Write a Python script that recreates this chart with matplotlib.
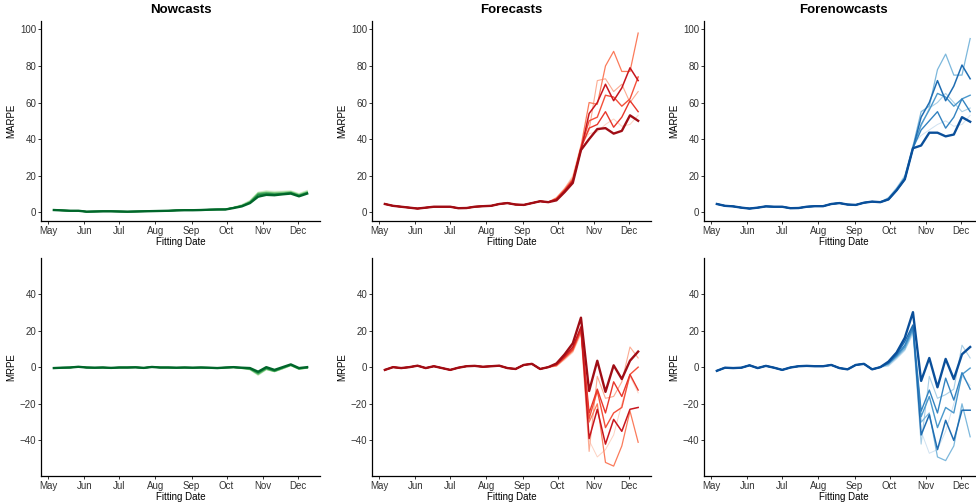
import pandas as pd
import matplotlib
matplotlib.use("Agg")
import matplotlib.pyplot as plt
import matplotlib.dates as mdates

plt.rcParams["font.family"] = ["Liberation Sans", "DejaVu Sans"]

# weekly fitting dates
dates = pd.date_range("2020-05-06", periods=32, freq="7D")

# values May 6 - Sep 23 (shared by all horizons), then Sep 30 - Dec 9 per horizon
now_marpe_early = [1.2, 1.0, 0.8, 0.8, 0.3, 0.4, 0.5, 0.5, 0.4, 0.3, 0.4, 0.5, 0.6, 0.7, 0.8, 1.0, 1.1, 1.1, 1.2, 1.4, 1.5]
now_marpe_late = [
    [1.5, 2.3, 3.2, 5.0, 8.5, 9.5, 9.3, 9.8, 10.2, 8.7, 10.2],
    [1.5, 2.4, 3.4, 5.3, 9.5, 10.0, 9.8, 10.0, 10.5, 9.0, 10.5],
    [1.6, 2.5, 3.5, 5.5, 10.0, 10.5, 10.0, 10.3, 10.8, 9.3, 10.8],
    [1.6, 2.5, 3.6, 5.8, 10.3, 10.8, 10.5, 10.6, 11.0, 9.5, 11.0],
    [1.7, 2.6, 3.8, 6.0, 10.5, 11.0, 10.8, 11.0, 11.3, 9.8, 11.3],
    [1.7, 2.7, 4.0, 6.2, 10.8, 11.5, 11.0, 11.3, 11.5, 10.0, 11.7],
    [1.8, 2.8, 4.2, 6.5, 11.0, 11.8, 11.5, 11.6, 11.8, 10.3, 12.0],
]
now_mrpe_early = [-0.5, -0.3, -0.2, 0.2, -0.2, -0.3, -0.2, -0.4, -0.2, -0.2, -0.1, -0.4, 0.1, -0.2, -0.2, -0.3, -0.2, -0.3, -0.2, -0.3, -0.5]
now_mrpe_late = [
    [-0.2, 0.0, -0.3, -0.5, -2.5, 0.0, -1.5, 0.0, 1.5, -0.5, 0.0],
    [-0.2, 0.0, -0.4, -0.8, -3.0, -0.5, -2.0, -0.3, 1.3, -0.7, -0.2],
    [-0.3, -0.1, -0.5, -1.0, -3.5, -0.8, -2.2, -0.5, 1.1, -0.9, -0.3],
    [-0.3, -0.1, -0.6, -1.1, -3.8, -1.0, -2.3, -0.7, 1.0, -1.0, -0.4],
    [-0.3, -0.2, -0.7, -1.2, -4.0, -1.2, -2.4, -0.8, 0.9, -1.1, -0.5],
    [-0.4, -0.2, -0.7, -1.4, -4.3, -1.3, -2.5, -0.9, 0.8, -1.2, -0.5],
    [-0.4, -0.2, -0.8, -1.5, -4.5, -1.5, -2.5, -1.0, 0.8, -1.2, -0.6],
]

fc_marpe_early = [4.5, 3.5, 3.0, 2.5, 2.0, 2.5, 3.0, 3.0, 3.0, 2.2, 2.3, 3.0, 3.3, 3.5, 4.5, 5.0, 4.2, 4.0, 5.0, 6.0, 5.5]
fc_marpe_late = [
    [6.5, 11.0, 16.0, 34.0, 40.0, 45.5, 46.0, 43.0, 44.5, 53.0, 50.0],
    [7.0, 11.5, 17.0, 34.0, 54.0, 60.0, 70.0, 61.0, 68.0, 79.0, 72.0],
    [7.0, 12.0, 17.0, 35.0, 46.0, 48.0, 55.0, 46.5, 52.0, 61.0, 55.0],
    [7.5, 12.0, 18.0, 35.0, 50.0, 52.0, 64.0, 63.0, 58.0, 62.0, 74.0],
    [7.5, 12.5, 18.0, 36.0, 60.0, 59.0, 80.0, 88.0, 77.0, 77.0, 98.0],
    [8.0, 13.0, 19.0, 36.0, 45.0, 72.0, 73.0, 66.0, 70.0, 60.0, 66.0],
    [8.0, 13.0, 20.0, 37.0, 43.0, 44.0, 48.0, 51.0, 47.0, 48.0, 53.0],
]
fc_mrpe_early = [-1.5, 0.0, -0.5, 0.0, 0.8, -0.5, 0.5, -0.5, -1.5, -0.3, 0.5, 0.7, 0.2, 0.5, 0.8, -0.5, -1.0, 1.2, 1.8, -1.0, 0.0]
fc_mrpe_late = [
    [2.0, 7.0, 13.0, 27.0, -13.0, 3.5, -13.5, 1.0, -6.5, 3.5, 8.5],
    [1.5, 6.0, 11.0, 22.0, -39.0, -23.0, -42.0, -28.5, -35.0, -23.0, -22.0],
    [1.5, 5.5, 10.0, 21.0, -25.0, -12.0, -25.0, -8.0, -16.0, -4.0, -12.5],
    [1.0, 5.0, 9.5, 20.0, -28.0, -13.0, -33.0, -25.0, -22.0, -4.0, 0.0],
    [1.0, 5.0, 9.0, 20.0, -30.0, -20.0, -52.0, -54.0, -43.0, -24.0, -41.0],
    [0.5, 4.5, 8.5, 19.0, -46.0, -5.0, -17.0, -16.0, -8.0, 11.0, 5.0],
    [0.5, 4.0, 8.0, 18.0, -40.0, -49.0, -45.0, -37.0, -20.0, -5.0, -14.0],
]

fn_marpe_early = [4.5, 3.5, 3.2, 2.5, 2.0, 2.5, 3.2, 3.0, 3.0, 2.2, 2.3, 3.0, 3.3, 3.3, 4.5, 5.0, 4.2, 4.0, 5.2, 5.8, 5.5]
fn_marpe_late = [
    [7.0, 12.0, 18.0, 35.0, 36.5, 43.5, 43.5, 41.5, 42.5, 52.0, 49.5],
    [7.0, 12.0, 18.0, 35.0, 52.0, 60.0, 72.0, 61.0, 69.0, 80.5, 73.0],
    [7.0, 12.0, 18.0, 35.0, 45.0, 50.0, 55.0, 46.0, 52.0, 62.0, 55.0],
    [7.5, 12.5, 19.0, 35.0, 48.0, 56.0, 65.0, 63.0, 58.0, 62.0, 64.0],
    [7.5, 13.0, 19.0, 36.0, 55.0, 58.0, 78.0, 86.5, 75.0, 75.0, 95.0],
    [8.0, 13.0, 20.0, 36.0, 47.0, 57.0, 60.0, 65.0, 60.0, 55.0, 57.0],
    [8.0, 13.5, 20.0, 37.0, 42.0, 45.0, 48.0, 50.0, 47.0, 48.0, 53.0],
]
fn_mrpe_early = [-2.0, -0.3, -0.5, -0.3, 1.0, -0.5, 0.7, -0.3, -1.5, -0.2, 0.5, 0.7, 0.5, 0.5, 1.2, -0.5, -1.2, 1.2, 1.8, -1.2, 0.0]
fn_mrpe_late = [
    [3.0, 8.0, 16.0, 30.0, -7.5, 5.0, -11.0, 4.5, -6.5, 7.0, 11.0],
    [2.5, 7.0, 14.0, 23.0, -37.0, -26.0, -45.0, -29.0, -40.0, -23.5, -23.5],
    [2.0, 6.5, 12.0, 22.0, -24.0, -12.5, -25.0, -6.0, -18.0, -3.0, -12.0],
    [2.0, 6.0, 11.0, 21.0, -27.0, -16.0, -33.0, -22.0, -25.0, -4.0, -0.5],
    [1.5, 5.5, 10.0, 20.0, -30.0, -25.0, -49.0, -51.0, -43.0, -20.0, -38.0],
    [1.0, 5.0, 9.5, 19.0, -42.0, -5.0, -17.0, -15.0, -12.0, 12.0, 5.0],
    [0.5, 4.5, 9.0, 18.0, -35.0, -47.0, -45.0, -35.0, -20.0, -5.0, -10.0],
]

greens = ["#00662a", "#238b45", "#41ab5d", "#74c476", "#a1d99b", "#c7e9c0", "#e2f3dc"]
reds = ["#a00d15", "#c8161d", "#e8372b", "#f4503a", "#fb7b5b", "#fcab92", "#fdd2c2"]
blues = ["#0a4f9a", "#1f6db2", "#3383c0", "#4a98cc", "#7db8dc", "#a9cfe6", "#d0e2f1"]
widths = [1.7, 1.1, 1.0, 1.0, 0.9, 0.8, 0.7]

panels = [
    ("Nowcasts", greens, now_marpe_early, now_marpe_late, now_mrpe_early, now_mrpe_late),
    ("Forecasts", reds, fc_marpe_early, fc_marpe_late, fc_mrpe_early, fc_mrpe_late),
    ("Forenowcasts", blues, fn_marpe_early, fn_marpe_late, fn_mrpe_early, fn_mrpe_late),
]

W, H = 976, 503
fig = plt.figure(figsize=(W / 100, H / 100), dpi=100)

lefts = [41, 372, 704]
aw = 279


def style(ax, ylabel):
    for s in ["top", "right"]:
        ax.spines[s].set_visible(False)
    for s in ["left", "bottom"]:
        ax.spines[s].set_linewidth(0.9)
        ax.spines[s].set_color("black")
    ax.tick_params(labelsize=7, length=2.2, width=0.7, colors="#333333", pad=1.2)
    ax.set_ylabel(ylabel, fontsize=7, labelpad=2.5)
    ax.set_xlabel("Fitting Date", fontsize=7, labelpad=0.8)
    ax.set_xlim(pd.Timestamp("2020-04-25"), pd.Timestamp("2020-12-20"))
    ax.xaxis.set_major_locator(mdates.MonthLocator())
    ax.xaxis.set_major_formatter(mdates.DateFormatter("%b"))


for col, (title, cols, me, ml, re_, rl) in enumerate(panels):
    x0 = lefts[col] / W
    ax1 = fig.add_axes([x0, 1 - 221 / H, aw / W, 200 / H])
    ax2 = fig.add_axes([x0, 1 - 476 / H, aw / W, 217.7 / H])
    for i in reversed(range(len(ml))):
        ax1.plot(dates, me + ml[i], color=cols[i], lw=widths[i])
        ax2.plot(dates, re_ + rl[i], color=cols[i], lw=widths[i])
    style(ax1, "MARPE")
    style(ax2, "MRPE")
    ax1.set_ylim(-4.8, 104.6)
    ax1.set_yticks([0, 20, 40, 60, 80, 100])
    ax2.set_ylim(-59.4, 59.4)
    ax2.set_yticks([-40, -20, 0, 20, 40])
    ax1.set_title(title, fontsize=9.5, fontweight="bold", pad=6)

fig.savefig("out.png", dpi=100)
